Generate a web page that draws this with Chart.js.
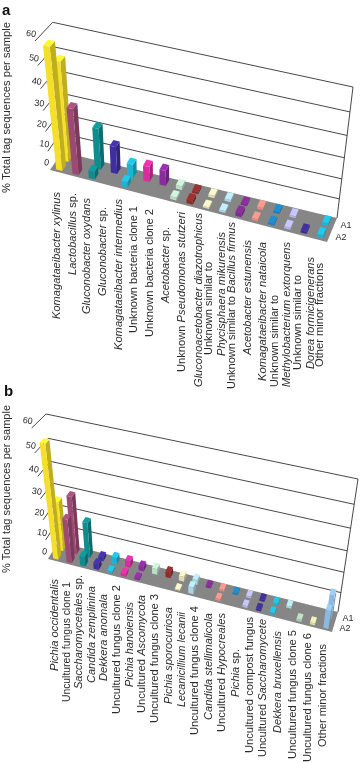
<!DOCTYPE html>
<html>
<head>
<meta charset="utf-8">
<style>
html,body{margin:0;padding:0;background:#fff;width:360px;height:763px;overflow:hidden}
canvas{position:absolute;left:0;top:0;filter:blur(0.3px)}
</style>
<script src="https://cdn.jsdelivr.net/npm/chart.js@4"></script>
</head>
<body>
<canvas id="panelA" width="360" height="763"></canvas>
<canvas id="panelB" width="360" height="763"></canvas>
<script>
// ---------- data ----------
const seriesNames = ["A1", "A2"];
const valueTicks = [0, 10, 20, 30, 40, 50, 60];
const axisTitle = "% Total tag sequences per sample";

const categoriesA = [
  "Komagataeibacter xylinus", "Lactobacillus sp.", "Gluconobacter oxydans", "Gluconobacter sp.",
  "Komagataeibacter intermedius", "Unknown bacteria clone 1", "Unknown bacteria clone 2", "Acetobacter sp.",
  "Unknown Pseudomonas stutzeri", "Gluconoacetobacter diazotrophicus",
  ["Unknown similar to", "Phycisphaera mikurensis"], "Unknown similar to Bacillus firmus",
  "Acetobacter estunensis", "Komagataeibacter nataicola",
  ["Unknown similar to", "Methylobacterium extorquens"], ["Unknown similar to", "Dorea formicigenerans"],
  "Other minor fractions"
];
const a1ValuesA = [48, 0, 21, 14, 7, 8, 8, 2, 1.2, 1.2, 1.2, 1, 1.2, 1.2, 1, 0, 1.5];
const a2ValuesA = [58, 33, 4, 0, 3, 0, 0, 1.5, 2, 0.8, 1, 2, 1, 1, 1, 1.2, 1.5];

const categoriesB = [
  "Pichia occidentalis", "Uncultured fungus clone 1", "Saccharomycetales sp.", "Candida zemplinina",
  "Dekkera anomala", "Uncultured fungus clone 2", "Pichia hanoiensis", "Uncultured Ascomycota",
  "Uncultured fungus clone 3", "Pichia sporocuriosa", "Lecanicillium lecanii", "Uncultured fungus clone 4",
  "Candida stellimalicola", "Uncultured Hypocreales", "Pichia sp.", "Uncultured compost fungus",
  "Uncultured Saccharomycete", "Dekkera bruxellensis", "Uncultured fungus clone 5",
  "Uncultured fungus clone 6", "Other minor fractions"
];
const a1ValuesB = [25, 29, 18, 2, 3.5, 3.5, 2.5, 3, 3, 2.5, 2.5, 1, 1, 1, 1, 1, 1, 1, 0, 0, 12];
const a2ValuesB = [54, 22, 5, 3, 1, 1.5, 1, 0, 0, 0.5, 3.5, 0, 1, 0, 1, 1, 1, 0, 1, 1, 9];

const italicWords = ["Komagataeibacter","xylinus","Lactobacillus","Gluconobacter","oxydans","intermedius","Acetobacter",
  "Pseudomonas","stutzeri","Gluconoacetobacter","diazotrophicus","Phycisphaera","mikurensis","Bacillus","firmus",
  "estunensis","nataicola","Methylobacterium","extorquens","Dorea","formicigenerans","Pichia","occidentalis",
  "Saccharomycetales","Candida","zemplinina","Dekkera","anomala","hanoiensis","Ascomycota","sporocuriosa",
  "Lecanicillium","lecanii","stellimalicola","Hypocreales","Saccharomycete","bruxellensis"];

// ---------- styles and layout ----------
const paletteColors = ["#F6DF2A","#9C4A74","#0E8C8E","#3F2E9E","#1DB4D2","#D92C9E","#8A2B9E","#BBDCC6","#8E2B2B",
  "#DEDDB4","#ABD5E4","#7E2A8E","#E08B82","#1C80BE","#B3B2E2","#3B2B8C","#1DB4D2","#A9D5D9","#ABC9B3","#D9D9A2","#8DB9DE"];
// each label line: centre x, top y, bottom y on the page
const labelSpotsA = [[57,192,319],[73,193,275],[87,198,314],[103,207,296],[119,199,350],[134,206,333],[150,209,337],
  [166,227,303],[182,212,372],[199,213,387],[209,262,355],[222,232,356],[232,222,389],[248,240,355],[263,242,381],
  [275,295,387],[287,242,387],[298,275,370],[311,257,369],[320,263,367]];
const labelSpotsB = [[55,579,671],[67,582,702],[79,575,689],[92,586,683],[104,594,681],[117,585,714],[130,602,687],
  [142,595,713],[155,594,723],[169,607,704],[182,612,707],[195,606,735],[209,613,720],[222,613,732],[236,649,697],
  [250,617,753],[263,619,757],[278,631,733],[293,630,759],[308,633,762],[323,644,747]];
const boxA = {floor:[[50,170],[327,242],[337,218],[62,152]], top:[[35,41],[345,104],[353,87],[52.7,22.3]]};
const boxB = {floor:[[48,559],[332,632],[338,612],[58,542]], top:[[31.7,428],[351,494],[358,479],[46,414]]};
const rowDepth = {A1:0.75, A2:0.25};
const halfDepth = 0.15;
const heightCurve = 1.174;
const textColor = "#2b2b2b", lineColor = "#333333", floorColor = "#868686";
const labelFont = 11;

// ---------- helpers ----------
const lerp = (p, q, k) => [p[0] + (q[0]-p[0])*k, p[1] + (q[1]-p[1])*k];
function quadPoint(c, u, w) { return lerp(lerp(c[0], c[1], u), lerp(c[3], c[2], u), w); }
function project(box, u, v, w) {
  const t = v / (heightCurve - (heightCurve - 1) * v);
  return lerp(quadPoint(box.floor, u, w), quadPoint(box.top, u, w), t);
}
function shade(hex, f) {
  const n = parseInt(hex.slice(1), 16);
  const ch = s => Math.max(0, Math.min(255, Math.round(((n >> s) & 255) * f)));
  return `rgb(${ch(16)},${ch(8)},${ch(0)})`;
}
function poly(ctx, pts, color) {
  ctx.beginPath();
  pts.forEach((p, i) => i ? ctx.lineTo(p[0], p[1]) : ctx.moveTo(p[0], p[1]));
  ctx.closePath();
  ctx.fillStyle = color;
  ctx.fill();
}
function segment(ctx, p, q) {
  ctx.beginPath(); ctx.moveTo(p[0], p[1]); ctx.lineTo(q[0], q[1]); ctx.stroke();
}
function runs(line) {
  const out = [];
  line.split(" ").forEach(word => {
    const it = italicWords.includes(word);
    const last = out[out.length - 1];
    if (last && last.it === it) last.text += " " + word;
    else { if (last) last.text += " "; out.push({text: word, it}); }
  });
  return out;
}
function verticalLabel(ctx, line, x, top, bottom) {
  ctx.save();
  ctx.textBaseline = "middle";
  ctx.textAlign = "left";
  ctx.fillStyle = textColor;
  const parts = runs(line);
  const fontOf = it => `${it ? "italic " : ""}${labelFont}px "Liberation Sans", Arial, sans-serif`;
  let total = 0;
  parts.forEach(r => { ctx.font = fontOf(r.it); r.w = ctx.measureText(r.text).width; total += r.w; });
  ctx.translate(x, bottom);
  ctx.rotate(-Math.PI / 2);
  ctx.scale((bottom - top) / total, 1);
  let pos = 0;
  parts.forEach(r => { ctx.font = fontOf(r.it); ctx.fillText(r.text, pos, 0); pos += r.w; });
  ctx.restore();
}

// ---------- 3D view plugin ----------
const view3d = {
  id: "view3d",
  beforeDatasetDraw() { return false; },
  beforeDatasetsDraw(chart, args, o) {
    const ctx = chart.ctx, box = o.box, ys = chart.scales.y, area = chart.chartArea;
    const vn = val => (ys.bottom - ys.getPixelForValue(val)) / (ys.bottom - ys.top);
    poly(ctx, [[0,0],[1,0],[1,1],[0,1]].map(c => project(box, c[0], 0, c[1])), floorColor);
    ctx.strokeStyle = lineColor; ctx.lineWidth = 0.9;
    ys.ticks.forEach(tk => {
      const v = vn(tk.value);
      if (tk.value > 0) segment(ctx, project(box, 0, v, 1), project(box, 1, v, 1));
      if (tk.value > 0) segment(ctx, project(box, 0, v, 0), project(box, 0, v, 1));
    });
    segment(ctx, project(box, 1, 0, 1), project(box, 1, 1, 1));
    ys.ticks.forEach(tk => {
      const p = project(box, 0, vn(tk.value), 0);
      ctx.save();
      ctx.translate(p[0] - 3.5 + vn(tk.value) * -0.5, p[1] - 7);
      ctx.rotate(0.14);
      ctx.font = '9px "Liberation Sans", Arial, sans-serif';
      ctx.fillStyle = textColor; ctx.textAlign = "center"; ctx.textBaseline = "middle";
      ctx.fillText(tk.label, 0, 0);
      ctx.restore();
    });
    [1, 0].forEach(di => {
      const ds = chart.data.datasets[di], meta = chart.getDatasetMeta(di), wc = rowDepth[ds.label];
      meta.data.forEach((el, i) => {
        if (!ds.data[i]) return;
        const u0 = (el.x - el.width/2 - area.left) / area.width, u1 = (el.x + el.width/2 - area.left) / area.width;
        const h = (el.base - el.y) / (ys.bottom - ys.top), w0 = wc - halfDepth, w1 = wc + halfDepth;
        const col = ds.backgroundColor[i];
        poly(ctx, [project(box,u1,0,w0), project(box,u1,0,w1), project(box,u1,h,w1), project(box,u1,h,w0)], shade(col, 0.78));
        poly(ctx, [project(box,u0,h,w0), project(box,u1,h,w0), project(box,u1,h,w1), project(box,u0,h,w1)], shade(col, 1.12));
        poly(ctx, [project(box,u0,0,w0), project(box,u1,0,w0), project(box,u1,h,w0), project(box,u0,h,w0)], col);
      });
    });
    ctx.font = '9px "Liberation Sans", Arial, sans-serif';
    ctx.fillStyle = textColor; ctx.textAlign = "left"; ctx.textBaseline = "middle";
    chart.data.datasets.forEach(ds => {
      const p = project(box, 1, 0, rowDepth[ds.label]);
      ctx.fillText(ds.label, p[0] + 6, p[1] + 2);
    });
    const lines = chart.data.labels.flat();
    lines.forEach((line, i) => verticalLabel(ctx, line, o.spots[i][0], o.spots[i][1], o.spots[i][2]));
    ctx.save();
    ctx.font = '11px "Liberation Sans", Arial, sans-serif';
    const titleWidth = ctx.measureText(axisTitle).width;
    ctx.translate(o.titleX, o.titleBottom);
    ctx.rotate(-Math.PI / 2);
    ctx.scale(o.titleLength / titleWidth, 1);
    ctx.textAlign = "left"; ctx.textBaseline = "middle"; ctx.fillStyle = textColor;
    ctx.fillText(axisTitle, 0, 0);
    ctx.restore();
    ctx.font = 'bold 15px "Liberation Sans", Arial, sans-serif';
    ctx.fillStyle = "#111"; ctx.textAlign = "left"; ctx.textBaseline = "alphabetic";
    ctx.fillText(o.letter, o.letterX, o.letterY);
  }
};

function makePanel(id, labels, a1, a2, pluginOptions) {
  const colors = labels.map((_, i) => paletteColors[i]);
  return new Chart(document.getElementById(id), {
    type: "bar",
    data: {
      labels,
      datasets: [
        {label: seriesNames[1], data: a2, backgroundColor: colors},
        {label: seriesNames[0], data: a1, backgroundColor: colors}
      ]
    },
    options: {
      responsive: false, animation: false,
      datasets: {bar: {grouped: false, barPercentage: 0.38, categoryPercentage: 1}},
      plugins: {legend: {display: false}, tooltip: {enabled: false}, view3d: pluginOptions},
      scales: {
        x: {grid: {display: false}, border: {display: false}, ticks: {display: false}},
        y: {min: valueTicks[0], max: valueTicks[valueTicks.length - 1], grid: {display: false}, border: {display: false},
            ticks: {display: false, stepSize: valueTicks[1] - valueTicks[0]}}
      }
    },
    plugins: [view3d]
  });
}

makePanel("panelA", categoriesA, a1ValuesA, a2ValuesA,
  {box: boxA, spots: labelSpotsA, titleX: 6.5, titleBottom: 193, titleLength: 171, letter: "a", letterX: 2, letterY: 15});
makePanel("panelB", categoriesB, a1ValuesB, a2ValuesB,
  {box: boxB, spots: labelSpotsB, titleX: 6.5, titleBottom: 573, titleLength: 168, letter: "b", letterX: 4, letterY: 396});
</script>
</body>
</html>
